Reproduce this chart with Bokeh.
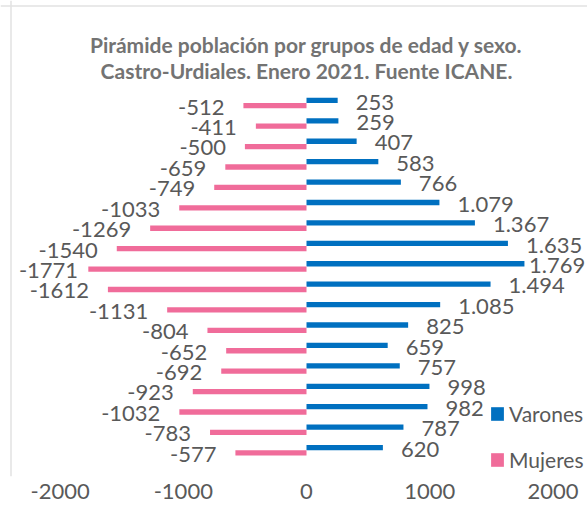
from bokeh.plotting import figure
from bokeh.models import (Range1d, FixedTicker, Label, Legend, LegendItem,
                          ColumnDataSource, Span)
from bokeh.core.properties import value
from bokeh.embed import file_html
from bokeh.resources import INLINE

# ---------------- data (top of the pyramid first) ----------------
grupos = ["85+", "80-84", "75-79", "70-74", "65-69", "60-64", "55-59", "50-54",
          "45-49", "40-44", "35-39", "30-34", "25-29", "20-24", "15-19",
          "10-14", "5-9", "0-4"]
varones = [253, 259, 407, 583, 766, 1079, 1367, 1635, 1769, 1494, 1085, 825,
           659, 757, 998, 982, 787, 620]
mujeres = [512, 411, 500, 659, 749, 1033, 1269, 1540, 1771, 1612, 1131, 804,
           652, 692, 923, 1032, 783, 577]
series_names = ["Varones", "Mujeres"]
tick_values = [-2000, -1000, 0, 1000, 2000]
tick_labels = ["-2000", "-1000", "0", "1000", "2000"]
title_lines = ["Pirámide población por grupos de edad y sexo.",
               "Castro-Urdiales. Enero 2021. Fuente ICANE."]

# ---------------- layout constants ----------------
W, H = 587, 508
FONT = "Lato"
BLUE = "#0070C0"
PINK = "#F06C9A"
TXT = "#595959"
TITLE_C = "#737373"
LAB_PX = 22

ZERO_PX = 306.0      # px of value 0
PPU = 0.1232         # px per unit
X0 = -ZERO_PX / PPU
X1 = (W - ZERO_PX) / PPU

FRAME_H = 476
STEP = 20.42         # px per age group
BOT_PX = 449.7       # px (from top) of the bottom group centre
Y0 = (BOT_PX - FRAME_H) / STEP
Y1 = BOT_PX / STEP

n = len(grupos)
ys = [n - 1 - i for i in range(n)]
BAR_H = 0.26


def fmt_es(v):
    return f"{v:,}".replace(",", ".")


def text_w(s):
    w = 0.0
    for ch in s:
        if ch.isdigit():
            w += 0.58
        elif ch == ".":
            w += 0.25
        elif ch == "-":
            w += 0.39
        else:
            w += 0.5
    return w * LAB_PX


def ypos(px):
    return (BOT_PX - px) / STEP


# label offsets (kept inside the chart area like the spreadsheet does)
v_lab = [fmt_es(v) for v in varones]
m_lab = ["-" + str(m) for m in mujeres]
v_off = []
for v, t in zip(varones, v_lab):
    end_px = (v - X0) * PPU
    v_off.append(min(18.0, (W - 2) - end_px - text_w(t)))
m_off = []
for m, t in zip(mujeres, m_lab):
    start_px = (-m - X0) * PPU
    m_off.append(-min(19.0, start_px - text_w(t) - 18))

src = ColumnDataSource(dict(
    y=ys,
    yv=[y + BAR_H / 2 for y in ys],
    ym=[y - BAR_H / 2 for y in ys],
    varones=varones,
    mujeres_neg=[-m for m in mujeres],
    v_lab=v_lab, m_lab=m_lab, v_off=v_off, m_off=m_off,
))

p = figure(width=W, height=H, output_backend="svg", toolbar_location=None,
           x_range=Range1d(X0, X1), y_range=Range1d(Y0, Y1),
           min_border_left=0, min_border_right=0, min_border_top=0,
           min_border_bottom=H - FRAME_H)
p.outline_line_color = None
p.background_fill_color = "white"
p.border_fill_color = "white"
p.grid.visible = False
p.yaxis.visible = False

ax = p.xaxis[0]
ax.ticker = FixedTicker(ticks=tick_values)
ax.major_label_overrides = {v: l for v, l in zip(tick_values, tick_labels)}
ax.axis_line_color = None
ax.major_tick_line_color = None
ax.minor_tick_line_color = None
ax.major_tick_out = 0
ax.major_label_standoff = 7
ax.major_label_text_font = FONT
ax.major_label_text_font_size = f"{LAB_PX}px"
ax.major_label_text_color = TXT

# frame lines of the chart area (decoration)
p.add_layout(Span(location=X0 + 10.5 / PPU, dimension="height",
                  line_color="#e2e2e2", line_width=1.5))
p.add_layout(Span(location=ypos(5.5), dimension="width",
                  line_color="#e2e2e2", line_width=1.5))

rb = p.hbar(y="yv", left=0, right="varones", height=BAR_H, source=src,
            fill_color=BLUE, line_color=None)
rp = p.hbar(y="ym", left="mujeres_neg", right=0, height=BAR_H, source=src,
            fill_color=PINK, line_color=None)

p.text(x="varones", y="y", text="v_lab", source=src, x_offset="v_off",
       y_offset=-1, text_align="left", text_baseline="middle",
       text_font=value(FONT), text_font_size=f"{LAB_PX}px", text_color=TXT)
p.text(x="mujeres_neg", y="y", text="m_lab", source=src, x_offset="m_off",
       y_offset=4, text_align="right", text_baseline="middle",
       text_font=value(FONT), text_font_size=f"{LAB_PX}px", text_color=TXT)

# title (two centred lines)
for i, line in enumerate(title_lines):
    p.add_layout(Label(x=0, y=ypos(44 + i * 25.5), text=line,
                       text_align="center", text_baseline="middle",
                       text_font=FONT, text_font_style="bold",
                       text_font_size="21px", text_color=TITLE_C))

legend = Legend(items=[LegendItem(label=series_names[0], renderers=[rb]),
                       LegendItem(label=series_names[1], renderers=[rp])],
                location=(489, 4), orientation="vertical",
                glyph_width=16, glyph_height=17, label_standoff=4,
                label_height=26, spacing=20, padding=0, margin=0,
                border_line_color=None, background_fill_alpha=0,
                label_text_font=FONT, label_text_font_size="21px",
                label_text_color=TXT)
p.add_layout(legend)

open("out.html", "w").write(file_html(p, INLINE))
